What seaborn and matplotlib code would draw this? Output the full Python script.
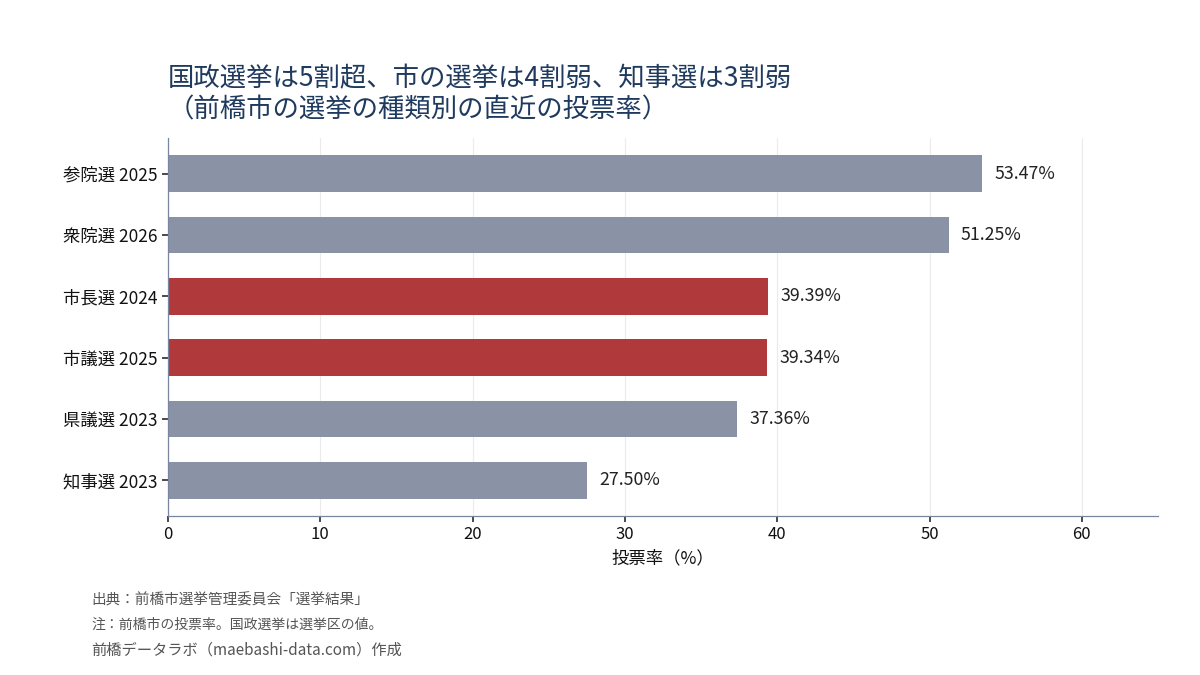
import matplotlib
matplotlib.use("Agg")
import matplotlib.pyplot as plt
import seaborn as sns
import pandas as pd

categories = ["参院選 2025", "衆院選 2026", "市長選 2024", "市議選 2025", "県議選 2023", "知事選 2023"]
values = [53.47, 51.25, 39.39, 39.34, 37.36, 27.50]
groups = ["国政", "国政", "市", "市", "県", "県"]
title = "国政選挙は5割超、市の選挙は4割弱、知事選は3割弱\n（前橋市の選挙の種類別の直近の投票率）"
xlabel = "投票率（%）"
notes = ["出典：前橋市選挙管理委員会「選挙結果」",
         "注：前橋市の投票率。国政選挙は選挙区の値。",
         "前橋データラボ（maebashi-data.com）作成"]

GRAY = "#8a93a6"
RED = "#b03a3b"
palette = [RED if g == "市" else GRAY for g in groups]

sns.set_theme(style="white")
plt.rcParams['font.family'] = ['Noto Sans CJK JP', 'DejaVu Sans']

df = pd.DataFrame({"cat": categories, "val": values})

fig = plt.figure(figsize=(12, 6.75), dpi=100)
ax = fig.add_axes([0.14, 0.2356, 0.825, 0.56])
sns.barplot(data=df, x="val", y="cat", hue="cat", palette=palette, legend=False,
            width=0.6, ax=ax, orient="h", saturation=1, linewidth=0)

ax.set_xlim(0, 65)
ax.set_ylim(5.58, -0.58)
ax.set_xticks([0, 10, 20, 30, 40, 50, 60])
ax.xaxis.grid(True, color="#ebebeb", linewidth=0.8)
ax.set_axisbelow(True)
for s in ["top", "right"]:
    ax.spines[s].set_visible(False)
for s in ["left", "bottom"]:
    ax.spines[s].set_color("#7a85a0")
    ax.spines[s].set_linewidth(0.9)
ax.tick_params(axis="both", which="both", length=4, color="#333333", labelsize=12, labelcolor="#111111",
               left=True, bottom=True)
ax.tick_params(axis="y", labelsize=12.5)
ax.set_ylabel("")
ax.set_xlabel(xlabel, fontsize=12.5, color="#111111", labelpad=4)

for i, v in enumerate(values):
    ax.text(v + 0.8, i, f"{v:.2f}%", va="center", ha="left", fontsize=12.8, color="#222222")

fig.text(0.14, 0.903, title, fontsize=19, color="#1f3a5f", ha="left", va="top", linespacing=1.17)

ys = [0.111, 0.074, 0.037]
sizes = [10.5, 10, 11]
for y, t, fs in zip(ys, notes, sizes):
    fig.text(0.076, y, t, fontsize=fs, color="#555555", ha="left", va="center")

fig.savefig("out.png", dpi=100)
